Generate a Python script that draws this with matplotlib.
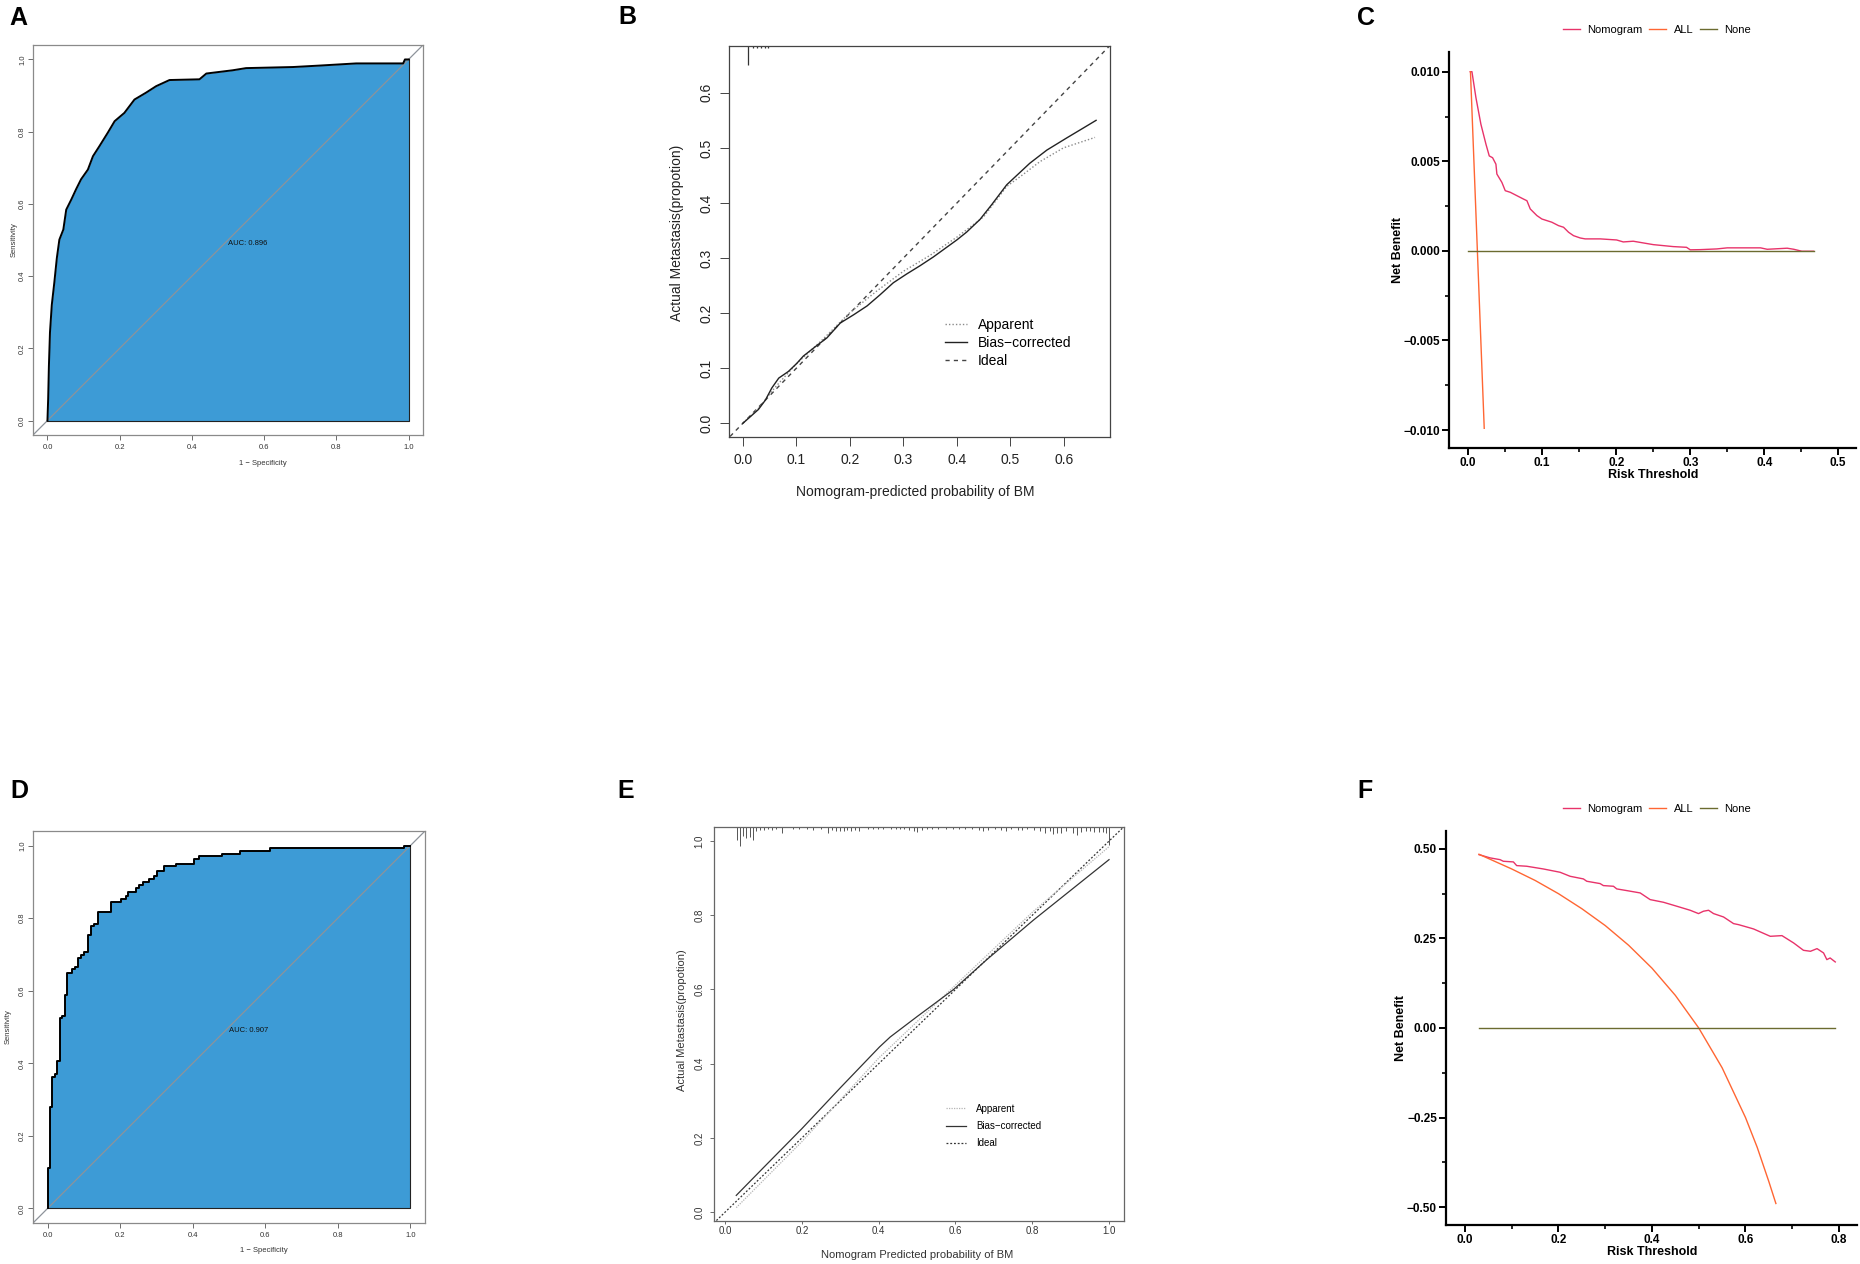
import numpy as np
import matplotlib.pyplot as plt
from matplotlib.lines import Line2D
from matplotlib.ticker import MultipleLocator

plt.rcParams['font.family'] = ['Liberation Sans', 'DejaVu Sans']

# ---- data ----
# A: ROC, training set
fpr_a = [0.0, 0.002, 0.004, 0.007, 0.012, 0.019, 0.026, 0.033, 0.044, 0.052, 0.066, 0.079, 0.093,
         0.112, 0.126, 0.144, 0.167, 0.186, 0.213, 0.241, 0.273, 0.301, 0.338, 0.421, 0.440, 0.513,
         0.550, 0.680, 0.753, 0.855, 0.985, 0.990, 1.0]
tpr_a = [0.0, 0.06, 0.15, 0.244, 0.32, 0.382, 0.45, 0.501, 0.529, 0.584, 0.612, 0.640, 0.668,
         0.695, 0.732, 0.760, 0.797, 0.829, 0.852, 0.889, 0.908, 0.926, 0.943, 0.945, 0.961, 0.970,
         0.976, 0.979, 0.983, 0.989, 0.989, 1.0, 1.0]
auc_a = 'AUC: 0.896'

# D: ROC, validation set (step curve)
fpr_d = [0.0, 0.0, 0.006, 0.013, 0.020, 0.027, 0.034, 0.041, 0.048, 0.055, 0.068, 0.077, 0.084,
         0.092, 0.100, 0.112, 0.119, 0.128, 0.140, 0.174, 0.202, 0.216, 0.223, 0.243, 0.252,
         0.262, 0.280, 0.294, 0.301, 0.321, 0.354, 0.404, 0.418, 0.481, 0.530, 0.613, 0.982, 1.0]
tpr_d = [0.0, 0.112, 0.279, 0.363, 0.371, 0.405, 0.524, 0.531, 0.587, 0.650, 0.660, 0.665, 0.691,
         0.699, 0.706, 0.754, 0.777, 0.784, 0.818, 0.844, 0.853, 0.860, 0.873, 0.883, 0.892,
         0.900, 0.908, 0.915, 0.930, 0.943, 0.949, 0.963, 0.971, 0.977, 0.984, 0.992, 1.0, 1.0]
auc_d = 'AUC: 0.907'

roc_ticks = [0.0, 0.2, 0.4, 0.6, 0.8, 1.0]

# B: calibration, training set
pred_b_bias = [0.0, 0.014, 0.029, 0.042, 0.054, 0.067, 0.085, 0.101, 0.113, 0.138, 0.157, 0.182,
               0.207, 0.232, 0.256, 0.281, 0.306, 0.331, 0.356, 0.400, 0.418, 0.443, 0.465, 0.493,
               0.536, 0.568, 0.605, 0.636, 0.660]
obs_b_bias = [0.0, 0.012, 0.025, 0.042, 0.064, 0.082, 0.094, 0.109, 0.122, 0.141, 0.155, 0.182,
              0.197, 0.213, 0.233, 0.255, 0.271, 0.286, 0.302, 0.333, 0.347, 0.370, 0.397, 0.433,
              0.472, 0.496, 0.518, 0.536, 0.550]
pred_b_app = [0.0, 0.03, 0.06, 0.10, 0.15, 0.20, 0.25, 0.30, 0.35, 0.40, 0.45, 0.493, 0.524,
              0.555, 0.599, 0.658]
obs_b_app = [0.0, 0.028, 0.065, 0.108, 0.153, 0.201, 0.240, 0.276, 0.305, 0.338, 0.375, 0.430,
             0.452, 0.475, 0.500, 0.519]
rug_b_x = [0.010, 0.019, 0.026, 0.033, 0.041, 0.047]
rug_b_n = [19, 2, 2, 2, 2, 2]
cal_b_ticks = [0.0, 0.1, 0.2, 0.3, 0.4, 0.5, 0.6]

# E: calibration, validation set
pred_e_bias = [0.029, 0.10, 0.20, 0.30, 0.402, 0.43, 0.50, 0.595, 0.681, 0.803, 1.0]
obs_e_bias = [0.045, 0.120, 0.225, 0.335, 0.445, 0.472, 0.527, 0.600, 0.680, 0.787, 0.950]
pred_e_app = [0.029, 0.20, 0.40, 0.60, 0.80, 1.0]
obs_e_app = [0.012, 0.190, 0.415, 0.612, 0.808, 0.985]
rug_e_x = [0.030, 0.038, 0.047, 0.055, 0.064, 0.072, 0.081, 0.091, 0.102, 0.112, 0.123, 0.133,
           0.148, 0.178, 0.193, 0.212, 0.230, 0.250, 0.267, 0.278, 0.288, 0.298, 0.309, 0.318,
           0.329, 0.339, 0.350, 0.373, 0.385, 0.398, 0.411, 0.432, 0.445, 0.456, 0.467, 0.478,
           0.491, 0.501, 0.512, 0.525, 0.538, 0.555, 0.576, 0.593, 0.610, 0.626, 0.643, 0.660,
           0.673, 0.686, 0.703, 0.719, 0.732, 0.745, 0.762, 0.774, 0.787, 0.804, 0.821, 0.834,
           0.845, 0.855, 0.865, 0.876, 0.889, 0.906, 0.916, 0.927, 0.939, 0.950, 0.961, 0.973,
           0.983, 0.992, 1.000]
rug_e_n = [13, 19, 9, 11, 10, 13, 4, 3, 3, 2, 3, 2,
           6, 2, 2, 2, 3, 2, 6, 3, 4, 4, 4, 3,
           4, 3, 4, 2, 2, 2, 2, 2, 2, 2, 2, 3,
           4, 5, 3, 2, 2, 2, 2, 2, 2, 2, 2, 3,
           4, 3, 2, 3, 4, 2, 3, 3, 2, 3, 4, 6,
           4, 7, 6, 6, 4, 6, 8, 5, 4, 4, 5, 5,
           5, 6, 18]
cal_e_ticks = [0.0, 0.2, 0.4, 0.6, 0.8, 1.0]

# C: decision curve, training set
thr_c_nomo = [0.0027, 0.005, 0.0104, 0.0171, 0.0239, 0.0284, 0.0329, 0.0374, 0.0387, 0.0455,
              0.050, 0.0568, 0.0658, 0.0748, 0.0793, 0.0838, 0.0928, 0.0995, 0.113, 0.122, 0.1288,
              0.1356, 0.1423, 0.1514, 0.158, 0.1784, 0.2005, 0.2095, 0.223, 0.25, 0.277, 0.295,
              0.300, 0.3135, 0.336, 0.350, 0.395, 0.404, 0.431, 0.440, 0.4509, 0.4667]
nb_c_nomo = [0.0100, 0.0100, 0.00855, 0.00707, 0.00596, 0.0053, 0.0052, 0.00484, 0.00429, 0.00382,
             0.00336, 0.00327, 0.00308, 0.00289, 0.0028, 0.00234, 0.00197, 0.00178, 0.0016,
             0.00141, 0.00132, 0.00104, 0.00085, 0.00072, 0.00067, 0.00067, 0.00061, 0.0005,
             0.00054, 0.00035, 0.00024, 0.0002, 0.00006, 0.00007, 0.00011, 0.00017, 0.00017,
             0.00009, 0.00015, 0.00009, -0.00002, -0.00002]
thr_c_all = [0.003, 0.0216]
nb_c_all = [0.0100, -0.0099]
thr_c_none = [0.0, 0.4667]
nb_c_none = [0.0, 0.0]
c_xticks = [0.0, 0.1, 0.2, 0.3, 0.4, 0.5]
c_xlabels = ['0.0', '0.1', '0.2', '0.3', '0.4', '0.5']
c_yticks = [-0.010, -0.005, 0.0, 0.005, 0.010]
c_ylabels = ['\u22120.010', '\u22120.005', '0.000', '0.005', '0.010']

# F: decision curve, validation set
thr_f_nomo = [0.030, 0.0535, 0.075, 0.082, 0.1035, 0.1106, 0.132, 0.1677, 0.2034, 0.2248, 0.2533,
              0.2605, 0.289, 0.296, 0.3176, 0.3247, 0.3461, 0.3747, 0.396, 0.4246, 0.4532, 0.4817,
              0.4995, 0.510, 0.521, 0.5317, 0.553, 0.5745, 0.585, 0.610, 0.6173, 0.653, 0.678,
              0.703, 0.724, 0.739, 0.753, 0.767, 0.774, 0.781, 0.792]
nb_f_nomo = [0.484, 0.475, 0.470, 0.4655, 0.4637, 0.4534, 0.4516, 0.444, 0.4348, 0.4236, 0.4162,
             0.4097, 0.4032, 0.3976, 0.3957, 0.3883, 0.3836, 0.3771, 0.3585, 0.351, 0.3399, 0.3287,
             0.3194, 0.326, 0.3287, 0.3194, 0.310, 0.2914, 0.2886, 0.2793, 0.2765, 0.256, 0.2579,
             0.2374, 0.2169, 0.2142, 0.2216, 0.2095, 0.1909, 0.1955, 0.1844]
thr_f_all = [0.03, 0.10, 0.15, 0.20, 0.25, 0.30, 0.35, 0.40, 0.45, 0.50, 0.55, 0.60, 0.625, 0.65, 0.665]
nb_f_all = [0.485, 0.444, 0.412, 0.375, 0.333, 0.286, 0.231, 0.167, 0.091, 0.0, -0.111, -0.25,
            -0.333, -0.429, -0.49]
thr_f_none = [0.03, 0.792]
nb_f_none = [0.0, 0.0]
f_xticks = [0.0, 0.2, 0.4, 0.6, 0.8]
f_xlabels = ['0.0', '0.2', '0.4', '0.6', '0.8']
f_yticks = [-0.50, -0.25, 0.0, 0.25, 0.50]
f_ylabels = ['\u22120.50', '\u22120.25', '0.00', '0.25', '0.50']

dca_names = ['Nomogram', 'ALL', 'None']
dca_colors = ['#E8336A', '#FF6633', '#6B6B30']

# ---- figure, laid out in pixels ----
W, H = 1860, 1264
fig = plt.figure(figsize=(W / 100, H / 100), dpi=100)


def px_axes(l, t, r, b):
    return fig.add_axes([l / W, 1 - b / H, (r - l) / W, (b - t) / H])


def ftext(x, y, s, **kw):
    fig.text(x / W, 1 - y / H, s, **kw)


def r_box(ax, color):
    for sp in ax.spines.values():
        sp.set_color(color)
        sp.set_linewidth(0.9)


def roc_panel(box, fpr, tpr, auc_txt, steps, ylab_x, ylab_y, xlab_y):
    ax = px_axes(*box)
    blue = '#3d9bd6'
    if steps:
        ax.fill_between(fpr, tpr, 0, step='post', color=blue, lw=0)
    else:
        ax.fill_between(fpr, tpr, 0, color=blue, lw=0)
    ax.plot([-0.04, 1.04], [-0.04, 1.04], color='#8d939a', lw=0.9)
    ax.plot([1, 1, 0], [tpr[-1], 0, 0], color='#222222', lw=0.8)
    if steps:
        ax.plot(fpr, tpr, drawstyle='steps-post', color='black', lw=1.4)
    else:
        ax.plot(fpr, tpr, color='black', lw=1.4)
    ax.text(0.5, 0.49, auc_txt, ha='left', va='center', fontsize=5.5, color='#111111')
    ax.set_xlim(-0.04, 1.04)
    ax.set_ylim(-0.04, 1.04)
    ax.set_xticks(roc_ticks)
    ax.set_yticks(roc_ticks)
    ax.set_xticklabels([f'{v:.1f}' for v in roc_ticks])
    ax.set_yticklabels([f'{v:.1f}' for v in roc_ticks], rotation=90, va='center')
    ax.tick_params(length=3.5, width=0.6, color='#555555', labelsize=5.5, labelcolor='#333333',
                   pad=3)
    ax.tick_params(axis='y', pad=1.5)
    r_box(ax, '#8a8a8a')
    l, t, r, b = box
    ftext(ylab_x, ylab_y, 'Sensitivity', rotation=90, ha='center', va='center', fontsize=5.5,
          color='#333333')
    ftext((l + r) / 2 + 35, xlab_y, '1 \u2212 Specificity', ha='center', va='center',
          fontsize=5.5, color='#333333')
    return ax


roc_panel((33, 45, 423, 435), fpr_a, tpr_a, auc_a, False, 14, 240, 463)
roc_panel((33, 831, 425, 1223), fpr_d, tpr_d, auc_d, True, 8, 1027, 1250)

# ---- B: calibration (training) ----
axb = px_axes(729, 46, 1110, 437)
axb.plot([-0.1, 0.8], [-0.1, 0.8], color='#444444', lw=1.0, ls=(0, (3, 3)), label='Ideal')
axb.plot(pred_b_app, obs_b_app, color='#8a8a8a', lw=1.0, ls=(0, (1, 1.5)), label='Apparent')
axb.plot(pred_b_bias, obs_b_bias, color='#222222', lw=1.0, label='Bias\u2212corrected')
axb.vlines(rug_b_x, [1 - n / 391 for n in rug_b_n], 1, color='#333333', lw=0.9,
           transform=axb.get_xaxis_transform())
axb.set_xlim(-0.026, 0.686)
axb.set_ylim(-0.025, 0.685)
axb.set_xticks(cal_b_ticks)
axb.set_yticks(cal_b_ticks)
axb.set_xticklabels([f'{v:.1f}' for v in cal_b_ticks])
axb.set_yticklabels([f'{v:.1f}' for v in cal_b_ticks], rotation=90, va='center')
axb.tick_params(length=6.5, width=0.7, color='#444444', labelsize=10, labelcolor='#222222', pad=5)
r_box(axb, '#444444')
hb, lb = axb.get_legend_handles_labels()
order = [1, 2, 0]
axb.legend([hb[i] for i in order], [lb[i] for i in order], loc='center left',
           bbox_to_anchor=(945 / W, 1 - 343 / H), bbox_transform=fig.transFigure, frameon=False,
           fontsize=10, handlelength=1.55, handletextpad=0.8, labelspacing=0.28, borderpad=0,
           borderaxespad=0)
ftext(677, 233, 'Actual Metastasis(propotion)', rotation=90, ha='center', va='center',
      fontsize=10, color='#222222')
ftext(915, 492, 'Nomogram-predicted probability of BM', ha='center', va='center', fontsize=10,
      color='#222222')

# ---- E: calibration (validation) ----
axe = px_axes(714, 827, 1124, 1221)
axe.plot([-0.1, 1.1], [-0.1, 1.1], color='#333333', lw=0.9, ls=(0, (1.5, 1.5)), label='Ideal')
axe.plot(pred_e_app, obs_e_app, color='#b5b5b5', lw=0.9, ls=(0, (1, 1)), label='Apparent')
axe.plot(pred_e_bias, obs_e_bias, color='#333333', lw=0.9, label='Bias\u2212corrected')
axe.vlines(rug_e_x, [1 - n / 394 for n in rug_e_n], 1, color='#555555', lw=0.7,
           transform=axe.get_xaxis_transform())
axe.set_xlim(-0.029, 1.039)
axe.set_ylim(-0.024, 1.038)
axe.set_xticks(cal_e_ticks)
axe.set_yticks(cal_e_ticks)
axe.set_xticklabels([f'{v:.1f}' for v in cal_e_ticks])
axe.set_yticklabels([f'{v:.1f}' for v in cal_e_ticks], rotation=90, va='center')
axe.tick_params(axis='x', length=2, width=0.6, color='#555555', labelsize=7,
                labelcolor='#333333', pad=1.5)
axe.tick_params(axis='y', length=3, width=0.6, color='#555555', labelsize=7,
                labelcolor='#333333', pad=4)
r_box(axe, '#666666')
he, le = axe.get_legend_handles_labels()
axe.legend([he[i] for i in order], [le[i] for i in order], loc='center left',
           bbox_to_anchor=(946 / W, 1 - 1126 / H), bbox_transform=fig.transFigure, frameon=False,
           fontsize=7, handlelength=2.1, handletextpad=1.0, labelspacing=0.75, borderpad=0,
           borderaxespad=0)
ftext(682, 1020, 'Actual Metastasis(propotion)', rotation=90, ha='center', va='center',
      fontsize=8, color='#333333')
ftext(917, 1255, 'Nomogram Predicted probability of BM', ha='center', va='center', fontsize=8,
      color='#333333')


# ---- C / F: decision curves ----
def dca_panel(box, curves, xlim, ylim, xt, xl, yt, yl, xminor, yminor, leg_y, ylab_xy, xlab_xy):
    ax = px_axes(*box)
    for (x, y), name, col in zip(curves, dca_names, dca_colors):
        ax.plot(x, y, color=col, lw=1.0, label=name)
    ax.set_xlim(*xlim)
    ax.set_ylim(*ylim)
    ax.set_xticks(xt)
    ax.set_xticklabels(xl)
    ax.set_yticks(yt)
    ax.set_yticklabels(yl)
    ax.xaxis.set_minor_locator(MultipleLocator(xminor))
    ax.yaxis.set_minor_locator(MultipleLocator(yminor))
    for s in ['top', 'right']:
        ax.spines[s].set_visible(False)
    for s in ['left', 'bottom']:
        ax.spines[s].set_linewidth(1.6)
    ax.tick_params(which='major', length=5, width=1.4, labelsize=8.5, pad=1.5)
    ax.tick_params(which='minor', length=3, width=1.2)
    for t in ax.get_xticklabels() + ax.get_yticklabels():
        t.set_fontweight('bold')
    ax.legend(loc='center', bbox_to_anchor=(1657 / W, 1 - leg_y / H),
              bbox_transform=fig.transFigure, ncol=3, frameon=False, fontsize=8,
              handlelength=1.5, handletextpad=0.7, columnspacing=0.6)
    ftext(*ylab_xy, 'Net Benefit', rotation=90, ha='center', va='center', fontsize=9,
          fontweight='bold')
    ftext(*xlab_xy, 'Risk Threshold', ha='center', va='center', fontsize=9, fontweight='bold')
    return ax


dca_panel((1449, 52, 1856, 448),
          [(thr_c_nomo, nb_c_nomo), (thr_c_all, nb_c_all), (thr_c_none, nb_c_none)],
          (-0.026, 0.524), (-0.011, 0.0111), c_xticks, c_xlabels, c_yticks, c_ylabels,
          0.05, 0.0025, 30, (1398, 250), (1653, 475))
dca_panel((1446, 831, 1857, 1225),
          [(thr_f_nomo, nb_f_nomo), (thr_f_all, nb_f_all), (thr_f_none, nb_f_none)],
          (-0.0406, 0.8385), (-0.55, 0.55), f_xticks, f_xlabels, f_yticks, f_ylabels,
          0.1, 0.125, 809, (1401, 1028), (1652, 1252))

# ---- panel letters ----
for letter, x, y in [('A', 9, 25), ('B', 618, 24), ('C', 1357, 25),
                     ('D', 10, 798), ('E', 617, 798), ('F', 1357, 798)]:
    ftext(x, y, letter, ha='left', va='baseline', fontsize=18, fontweight='bold')

fig.savefig('out.png', dpi=100)
